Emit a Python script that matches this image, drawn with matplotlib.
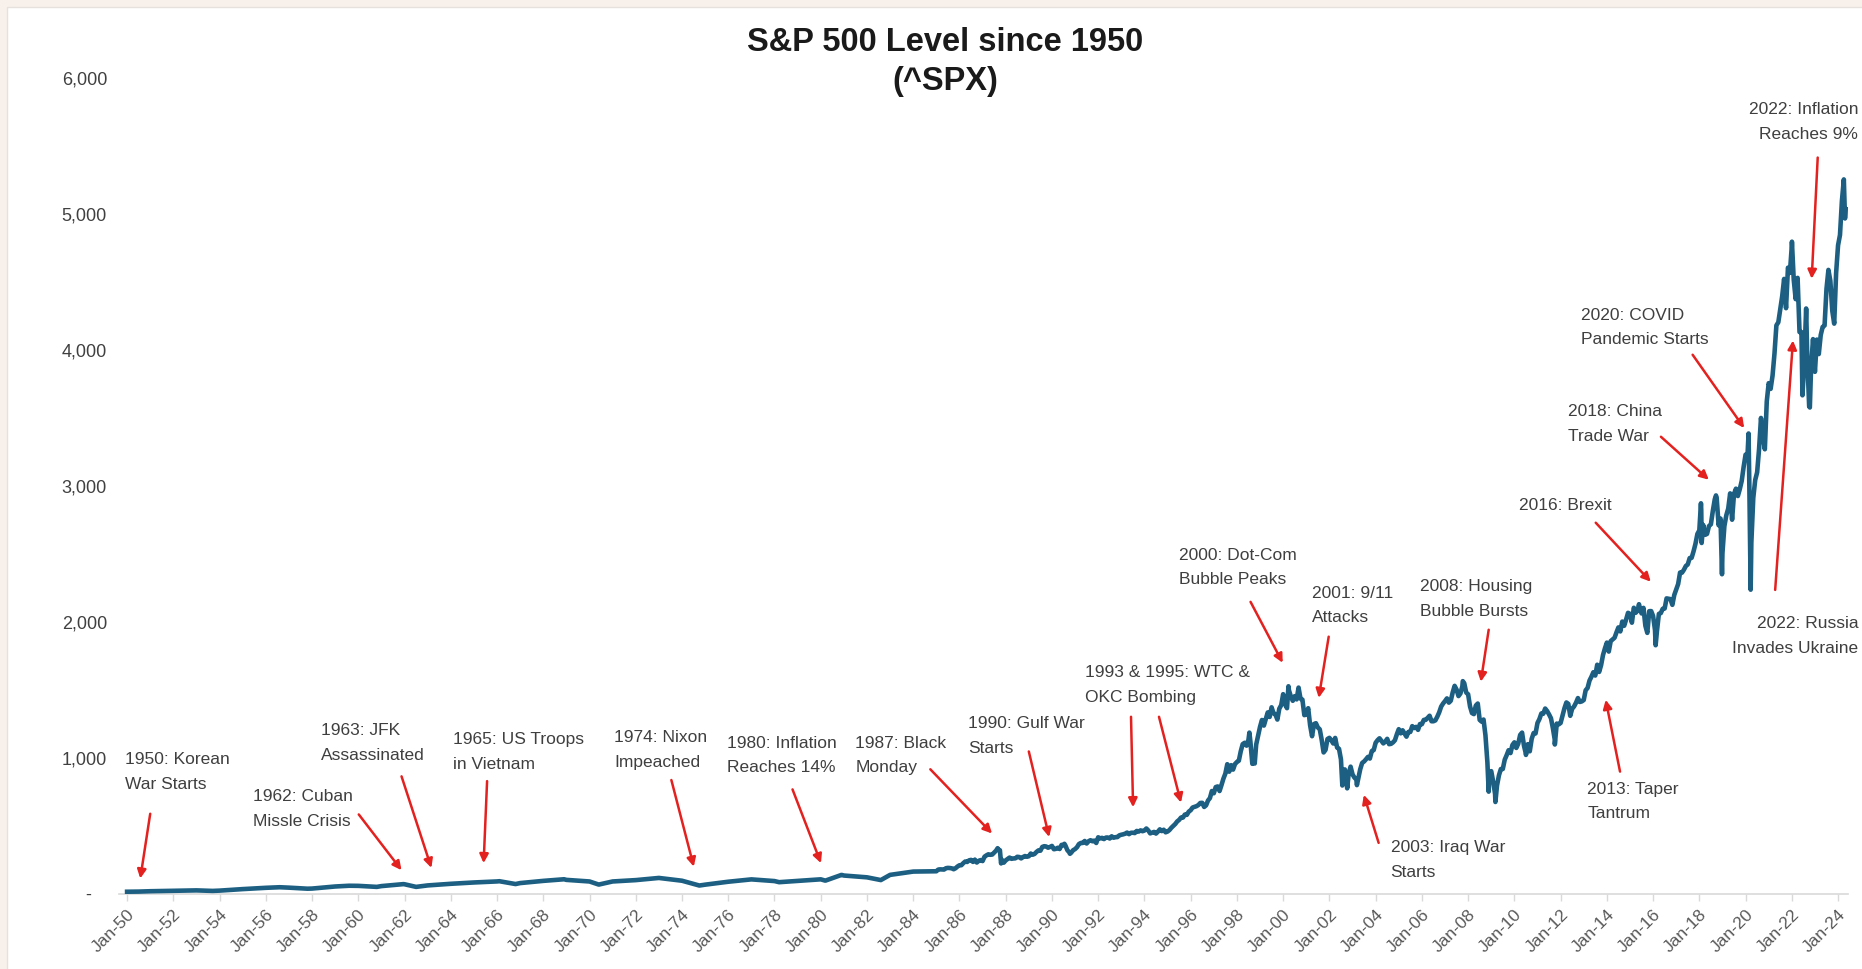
import numpy as np
import matplotlib
matplotlib.use("Agg")
from matplotlib import pyplot as plt
from matplotlib.patches import Rectangle

plt.rcParams["font.family"] = ["Liberation Sans", "DejaVu Sans"]

# S&P 500 (^SPX) levels
# 1950-1984: start of year values plus the main turning points (decimal year, level)
early_x = [1950.0, 1950.5, 1951.0, 1952.0, 1953.0, 1953.7, 1954.0, 1955.0, 1956.0, 1956.6,
           1957.0, 1957.8, 1958.0, 1959.0, 1959.6, 1960.0, 1960.8, 1961.0, 1961.95, 1962.0,
           1962.5, 1963.0, 1964.0, 1965.0, 1966.0, 1966.1, 1966.8, 1967.0, 1968.0, 1968.9,
           1969.0, 1970.0, 1970.4, 1971.0, 1972.0, 1973.0, 1974.0, 1974.75, 1975.0, 1976.0,
           1977.0, 1978.0, 1978.2, 1979.0, 1980.0, 1980.2, 1980.9, 1981.0, 1982.0, 1982.6,
           1983.0, 1984.0, 1985.0]
early_v = [16.7, 17.7, 20.4, 23.8, 26.6, 22.7, 24.8, 36.0, 45.5, 49.7,
           46.7, 39.0, 40.0, 55.2, 60.7, 59.9, 52.3, 58.1, 72.6, 71.6,
           52.3, 63.1, 75.0, 84.8, 92.4, 94.0, 73.2, 80.3, 96.5, 108.4,
           103.9, 92.1, 69.3, 92.2, 102.1, 118.1, 97.6, 62.3, 68.6, 90.2,
           107.5, 95.1, 86.9, 96.1, 107.9, 98.2, 140.5, 135.8, 122.6, 102.4,
           140.6, 164.9, 167.2]

# month-end closes, Jan 1985 onwards
spx_1985_1994 = [
    179.6, 181.2, 180.7, 179.8, 189.6, 191.9, 190.9, 188.6, 182.1, 189.8, 202.2, 211.3,
    211.8, 226.9, 238.9, 235.5, 247.4, 250.8, 236.1, 252.9, 231.3, 244.0, 249.2, 242.2,
    274.1, 284.2, 291.7, 288.4, 290.1, 304.0, 318.7, 329.8, 321.8, 251.8, 230.3, 247.1,
    257.1, 267.8, 258.9, 261.3, 262.2, 273.5, 272.0, 261.5, 271.9, 279.0, 273.7, 277.7,
    297.5, 288.9, 294.9, 309.6, 320.5, 318.0, 346.1, 351.5, 349.2, 340.4, 346.0, 353.4,
    329.1, 331.9, 339.9, 330.8, 361.2, 358.0, 356.2, 322.6, 306.1, 304.0, 322.2, 330.2,
    343.9, 367.1, 375.2, 375.4, 389.8, 371.2, 387.8, 395.4, 387.9, 392.5, 375.2, 417.1,
    408.8, 412.7, 403.7, 415.0, 415.4, 408.1, 424.2, 414.0, 417.8, 418.7, 431.4, 435.7,
    438.8, 443.4, 451.7, 440.2, 450.2, 450.5, 448.1, 463.6, 458.9, 467.8, 461.8, 466.5,
    481.6, 467.1, 445.8, 450.9, 456.5, 444.3, 458.3, 475.5, 462.7, 472.4, 453.7, 459.3]
spx_1995_2004 = [
    470.4, 487.4, 500.7, 514.7, 533.4, 544.8, 562.1, 561.9, 584.4, 581.5, 605.4, 615.9,
    636.0, 640.4, 645.5, 654.2, 669.1, 670.6, 640.0, 652.0, 687.3, 705.3, 757.0, 740.7,
    786.2, 790.8, 757.1, 801.3, 848.3, 885.1, 954.3, 899.5, 947.3, 914.6, 955.4, 970.4,
    980.3, 1049.3, 1101.8, 1111.8, 1090.8, 1133.8, 1120.7, 957.3, 1017.0, 1098.7, 1163.6, 1229.2,
    1279.6, 1238.3, 1286.4, 1335.2, 1301.8, 1372.7, 1328.7, 1320.4, 1282.7, 1362.9, 1388.9, 1469.3,
    1394.5, 1366.4, 1498.6, 1452.4, 1420.6, 1454.6, 1430.8, 1517.7, 1436.5, 1429.4, 1315.0, 1320.3,
    1366.0, 1239.9, 1160.3, 1249.5, 1255.8, 1224.4, 1211.2, 1133.6, 1040.9, 1059.8, 1139.5, 1148.1,
    1130.2, 1106.7, 1147.4, 1076.9, 1067.1, 989.8, 911.6, 916.1, 815.3, 885.8, 936.3, 879.8,
    855.7, 841.2, 848.2, 916.9, 963.6, 974.5, 990.3, 1008.0, 996.0, 1050.7, 1058.2, 1111.9,
    1131.1, 1144.9, 1126.2, 1107.3, 1120.7, 1140.8, 1101.7, 1104.2, 1114.6, 1130.2, 1173.8, 1211.9]
spx_2005_2014 = [
    1181.3, 1203.6, 1180.6, 1156.9, 1191.5, 1191.3, 1234.2, 1220.3, 1228.8, 1207.0, 1249.5, 1248.3,
    1280.1, 1280.7, 1294.9, 1310.6, 1270.1, 1270.2, 1276.7, 1303.8, 1335.9, 1377.9, 1400.6, 1418.3,
    1438.2, 1406.8, 1420.9, 1482.4, 1530.6, 1503.4, 1455.3, 1474.0, 1526.8, 1549.4, 1481.1, 1468.4,
    1378.6, 1330.6, 1322.7, 1385.6, 1400.4, 1280.0, 1267.4, 1282.8, 1166.4, 968.8, 896.2, 903.3,
    825.9, 735.1, 797.9, 872.8, 919.1, 919.3, 987.5, 1020.6, 1057.1, 1036.2, 1095.6, 1115.1,
    1073.9, 1104.5, 1169.4, 1186.7, 1089.4, 1030.7, 1101.6, 1049.3, 1141.2, 1183.3, 1180.6, 1257.6,
    1286.1, 1327.2, 1325.8, 1363.6, 1345.2, 1320.6, 1292.3, 1218.9, 1131.4, 1253.3, 1247.0, 1257.6,
    1312.4, 1365.7, 1408.5, 1397.9, 1310.3, 1362.2, 1379.3, 1406.6, 1440.7, 1412.2, 1416.2, 1426.2,
    1498.1, 1514.7, 1569.2, 1597.6, 1630.7, 1606.3, 1685.7, 1633.0, 1681.6, 1756.5, 1805.8, 1848.4,
    1782.6, 1859.5, 1872.3, 1884.0, 1923.6, 1960.2, 1930.7, 2003.4, 1972.3, 2018.1, 2067.6, 2058.9]
spx_2015_2024 = [
    1995.0, 2104.5, 2067.9, 2085.5, 2107.4, 2063.1, 2103.8, 1972.2, 1920.0, 2079.4, 2080.4, 2043.9,
    1940.2, 1932.2, 2059.7, 2065.3, 2097.0, 2098.9, 2173.6, 2171.0, 2168.3, 2126.2, 2198.8, 2238.8,
    2278.9, 2363.6, 2362.7, 2384.2, 2411.8, 2423.4, 2470.3, 2471.7, 2519.4, 2575.3, 2647.6, 2673.6,
    2823.8, 2713.8, 2640.9, 2648.1, 2705.3, 2718.4, 2816.3, 2901.5, 2914.0, 2711.7, 2760.2, 2506.9,
    2704.1, 2784.5, 2834.4, 2945.8, 2752.1, 2941.8, 2980.4, 2926.5, 2976.7, 3037.6, 3141.0, 3230.8,
    3225.5, 2954.2, 2584.6, 2912.4, 3044.3, 3100.3, 3271.1, 3500.3, 3363.0, 3270.0, 3621.6, 3756.1,
    3714.2, 3811.2, 3972.9, 4181.2, 4204.1, 4297.5, 4395.3, 4522.7, 4307.5, 4605.4, 4567.0, 4766.2,
    4515.6, 4373.9, 4530.4, 4131.9, 4132.2, 3785.4, 4130.3, 3955.0, 3585.6, 3872.0, 4080.1, 3839.5,
    4076.6, 3970.2, 4109.3, 4169.5, 4179.8, 4450.4, 4589.0, 4507.7, 4288.1, 4193.8, 4567.8, 4769.8,
    4845.7, 5096.3, 5254.4]

# intramonth highs and lows that show up in the daily line
extreme_x = [1987.65, 1987.80, 1990.54, 1990.78, 1998.54, 1998.77, 2000.23, 2002.56, 2002.77,
             2003.19, 2007.77, 2008.89, 2009.18, 2010.50, 2011.75, 2015.39, 2016.11, 2018.07,
             2018.10, 2018.72, 2018.98, 2020.13, 2020.22, 2022.005, 2022.46, 2022.62, 2022.78,
             2024.30, 2024.33]
extreme_v = [336.8, 224.8, 369.0, 295.5, 1186.8, 959.4, 1527.5, 797.7, 776.8,
             800.7, 1565.2, 752.4, 676.5, 1022.6, 1099.2, 2130.8, 1829.1, 2872.9,
             2581.0, 2930.8, 2351.1, 3386.2, 2237.4, 4796.6, 3666.8, 4305.2, 3577.0,
             4967.2, 5035.7]

tick_years = list(range(1950, 2025, 2))
tick_labels = ["Jan-" + str(y)[2:] for y in tick_years]

# (text, alignment, text position, [(arrow tail, arrow head), ...]) in data units
events = [
    ("1950: Korean\nWar Starts", "left", (1949.9, 896), [((1951.0, 590), (1950.57, 114))]),
    ("1962: Cuban\nMissle Crisis", "left", (1955.45, 624), [((1960.02, 585), (1961.87, 175))]),
    ("1963: JFK\nAssassinated", "left", (1958.38, 1109), [((1961.87, 865), (1963.16, 192))]),
    ("1965: US Troops\nin Vietnam", "left", (1964.08, 1044), [((1965.57, 830), (1965.42, 227))]),
    ("1974: Nixon\nImpeached", "left", (1971.07, 1057), [((1973.54, 838), (1974.51, 201))]),
    ("1980: Inflation\nReaches 14%", "left", (1975.95, 1017), [((1978.78, 769), (1980.01, 227))]),
    ("1987: Black\nMonday", "left", (1981.5, 1017), [((1984.74, 917), (1987.41, 445))]),
    ("1990: Gulf War\nStarts", "left", (1986.38, 1162), [((1989.0, 1048), (1989.88, 419))]),
    ("1993 & 1995: WTC &\nOKC Bombing", "left", (1991.42, 1537),
     [((1993.42, 1303), (1993.51, 638)), ((1994.63, 1303), (1995.58, 672))]),
    ("2000: Dot-Com\nBubble Peaks", "left", (1995.48, 2402), [((1998.59, 2148), (1999.98, 1700))]),
    ("2001: 9/11\nAttacks", "left", (2001.23, 2122), [((2001.97, 1892), (2001.54, 1442))]),
    ("2003: Iraq War\nStarts", "left", (2004.65, 249), [((2004.13, 376), (2003.49, 729))]),
    ("2008: Housing\nBubble Bursts", "left", (2005.9, 2170), [((2008.89, 1943), (2008.55, 1561))]),
    ("2013: Taper\nTantrum", "left", (2013.16, 681), [((2014.57, 900), (2013.95, 1428))]),
    ("2016: Brexit", "left", (2010.2, 2856), [((2013.52, 2730), (2015.9, 2296))]),
    ("2018: China\nTrade War", "left", (2012.3, 3454), [((2016.34, 3362), (2018.41, 3046))]),
    ("2020: COVID\nPandemic Starts", "left", (2012.87, 4166), [((2017.71, 3965), (2019.94, 3426))]),
    ("2022: Russia\nInvades Ukraine", "right", (2024.87, 1895), [((2021.28, 2236), (2022.05, 4070))]),
    ("2022: Inflation\nReaches 9%", "right", (2024.87, 5677), [((2023.12, 5415), (2022.86, 4524))]),
]

LINE_COLOR = "#1c5f82"
ARROW_COLOR = "#e3211f"
TEXT_COLOR = "#3f3f3f"

# build the series
monthly_v = spx_1985_1994 + spx_1995_2004 + spx_2005_2014 + spx_2015_2024
monthly_x = [1985 + (i + 1) / 12 for i in range(len(monthly_v))]
x = np.array(early_x + monthly_x + extreme_x)
v = np.array(early_v + monthly_v + extreme_v)
order = np.argsort(x, kind="stable")
x, v = x[order], v[order]

fig = plt.figure(figsize=(18.62, 9.69), dpi=100)
fig.patch.set_facecolor("#f8f0eb")
fig.patches.append(Rectangle((7 / 1862, -0.01), 1.0, 1 - 7 / 969 + 0.01, transform=fig.transFigure,
                             facecolor="white", edgecolor="#e6e1dd", lw=1, zorder=-5))

ax = fig.add_axes([119 / 1862, 1 - 894 / 969, (1848 - 119) / 1862, (894 - 78) / 969])
ax.set_facecolor("none")
ax.set_zorder(2)
ax.plot(x, v, color=LINE_COLOR, lw=3.3, solid_joinstyle="round", zorder=3)

ax.set_xlim(1949.65, 2024.43)
ax.set_ylim(0, 6000)

ax.set_yticks(range(0, 6001, 1000))
ax.set_yticklabels(["-   "] + ["{:,}".format(t) for t in range(1000, 6001, 1000)])
ax.tick_params(axis="y", length=0, pad=8.6, labelsize=13, labelcolor="#404040")

ax.set_xticks(tick_years)
ax.set_xticklabels(tick_labels, rotation=45, ha="right", va="top", rotation_mode="anchor")
ax.tick_params(axis="x", length=5, width=1, color="#d9d9d9", pad=4, labelsize=12.5, labelcolor="#595959")

for side in ["top", "right", "left"]:
    ax.spines[side].set_visible(False)
ax.spines["bottom"].set_color("#d9d9d9")
ax.spines["bottom"].set_linewidth(1.2)

for label, align, pos, arrows in events:
    ax.text(pos[0], pos[1], label, ha=align, va="center", multialignment=align,
            fontsize=12.5, color=TEXT_COLOR, linespacing=1.8, clip_on=False, zorder=5)
    for tail, head in arrows:
        ax.annotate("", xy=head, xytext=tail, annotation_clip=False,
                    arrowprops=dict(arrowstyle="-|>", color=ARROW_COLOR, lw=1.8,
                                    mutation_scale=13, shrinkA=0, shrinkB=0), zorder=4)

fig.text(945 / 1862, 1 - 62 / 969, "S&P 500 Level since 1950\n(^SPX)", ha="center", va="center",
         fontsize=23.5, fontweight="bold", color="#1a1a1a", linespacing=1.35)

plt.savefig("out.png", dpi=100, facecolor=fig.get_facecolor())
plt.close()
